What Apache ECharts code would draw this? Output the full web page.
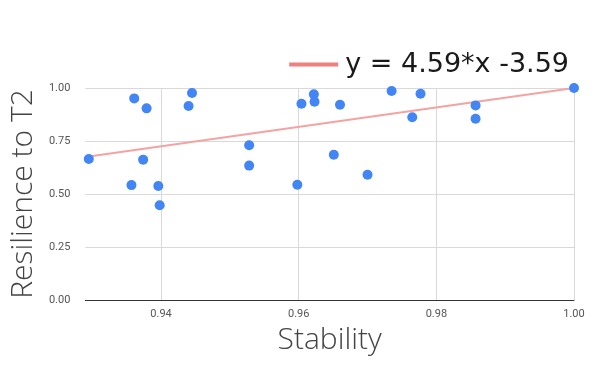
<!DOCTYPE html>
<html>
<head>
<meta charset="utf-8">
<script src="https://cdn.jsdelivr.net/npm/echarts@6/dist/echarts.min.js"></script>
<style>
  html, body { margin: 0; padding: 0; background: #fff; }
  #main { width: 600px; height: 371px; }
</style>
</head>
<body>
<div id="main"></div>
<script>
// stability (x) and resilience to T2 (y)
var stability = [0.9295, 0.9361, 0.9379, 0.9357, 0.9374, 0.9396, 0.9398, 0.9440, 0.9445, 0.9528, 0.9528, 0.9598,
  0.9604, 0.9622, 0.9623, 0.9660, 0.9651, 0.9700, 0.9735, 0.9777, 0.9765, 0.9857, 0.9857, 1.0];
var resilience = [0.665, 0.951, 0.904, 0.542, 0.662, 0.538, 0.447, 0.915, 0.976, 0.730, 0.634, 0.544,
  0.926, 0.970, 0.935, 0.921, 0.685, 0.591, 0.986, 0.973, 0.862, 0.918, 0.855, 1.0];
// trendline from the legend
var slope = 4.59;
var intercept = -3.59;
var trendName = 'y = 4.59*x -3.59';

var xMin = 0.929, xMax = 1.0;

var points = stability.map(function (x, i) { return [x, resilience[i]]; });
var trend = [xMin, xMax].map(function (x) { return [x, slope * x + intercept]; });

var chart = echarts.init(document.getElementById('main'));
var option = {
  animation: false,
  textStyle: { fontFamily: 'Roboto' },
  grid: { left: 82, right: 26, top: 88, bottom: 71 },
  legend: {
    right: 26,
    top: 46,
    itemWidth: 49,
    itemHeight: 4,
    data: [{ name: trendName, icon: 'rect', itemStyle: { color: '#ee8080' } }],
    textStyle: { fontFamily: 'DejaVu Sans', fontSize: 27, color: '#1a1a1a', padding: [0, 0, 0, 2] }
  },
  xAxis: {
    type: 'value',
    min: xMin,
    max: xMax,
    splitNumber: 4,
    name: 'Stability',
    nameLocation: 'middle',
    nameGap: 25,
    nameTextStyle: { fontFamily: 'Open Sans', fontWeight: 300, fontSize: 30, color: '#444' },
    axisLine: { show: true, lineStyle: { color: '#333', width: 1 } },
    axisTick: { show: false },
    axisLabel: {
      color: '#555', fontSize: 11, margin: 9, showMinLabel: false,
      formatter: function (v) { return v.toFixed(2); }
    },
    splitLine: { show: true, showMinLine: false, lineStyle: { color: '#d9d9d9' } }
  },
  yAxis: {
    type: 'value',
    min: 0,
    max: 1,
    interval: 0.25,
    name: 'Resilience to T2',
    nameLocation: 'middle',
    nameGap: 47,
    nameTextStyle: { fontFamily: 'Open Sans', fontWeight: 300, fontSize: 30, color: '#444' },
    axisLine: { show: false },
    axisTick: { show: false },
    axisLabel: {
      color: '#555', fontSize: 11, margin: 15,
      formatter: function (v) { return v.toFixed(2); }
    },
    splitLine: { lineStyle: { color: '#d9d9d9' } }
  },
  series: [
    {
      name: 'points',
      type: 'scatter',
      data: points,
      symbolSize: 10,
      itemStyle: { color: '#4285f4', opacity: 1 },
      z: 3
    },
    {
      name: trendName,
      type: 'line',
      data: trend,
      showSymbol: false,
      symbol: 'none',
      lineStyle: { color: '#f4a3a3', width: 2 },
      z: 2
    }
  ]
};
chart.setOption(option);
</script>
</body>
</html>
